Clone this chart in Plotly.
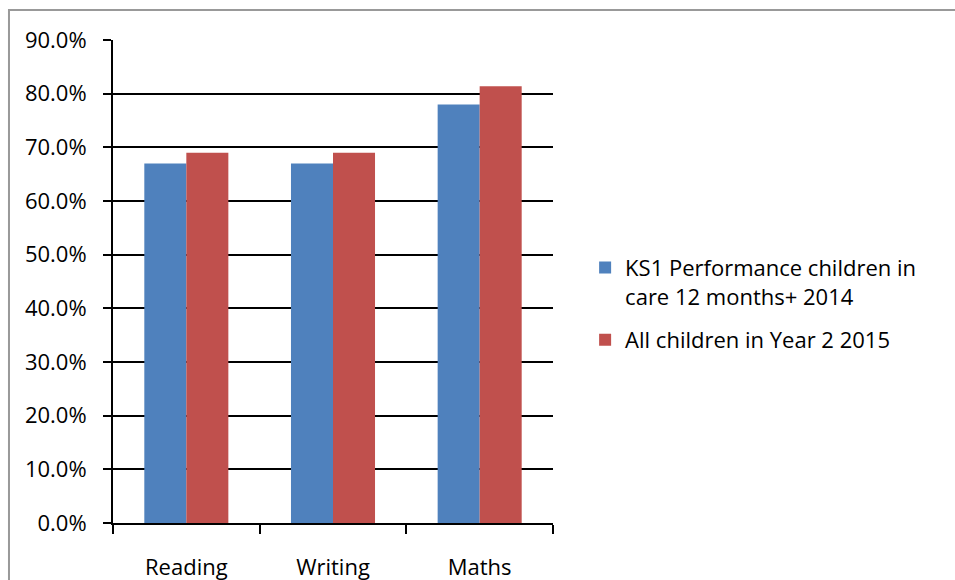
import plotly.graph_objects as go

categories = ["Reading", "Writing", "Maths"]
series_names = ["KS1 Performance children in<br>care 12 months+ 2014", "All children in Year 2 2015"]
in_care_2014 = [0.67, 0.67, 0.78]
all_year2_2015 = [0.69, 0.69, 0.814]
y_ticks = [0.0, 0.1, 0.2, 0.3, 0.4, 0.5, 0.6, 0.7, 0.8, 0.9]
colors = ["#4F81BD", "#C0504D"]

FONT = "Open Sans"
fig = go.Figure()
fig.add_trace(go.Bar(x=categories, y=in_care_2014, name=series_names[0],
                     marker=dict(color=colors[0], line=dict(width=0)), legendgroup="a"))
fig.add_trace(go.Bar(x=categories, y=all_year2_2015, name=series_names[1],
                     marker=dict(color=colors[1], line=dict(width=0)), legendgroup="b"))

fig.update_layout(
    width=955, height=580,
    margin=dict(l=113, r=402, t=40, b=57, pad=0),
    paper_bgcolor="white", plot_bgcolor="white",
    barmode="group", bargap=0.427, bargroupgap=0,
    font=dict(family=FONT, size=22, color="black"),
    legend=dict(x=1.073, y=0.572, xanchor="left", yanchor="top", valign="top",
                font=dict(family=FONT, size=22, color="black"),
                tracegroupgap=12, bgcolor="rgba(0,0,0,0)"),
    showlegend=True,
)
fig.update_xaxes(
    type="category", tickson="boundaries", ticks="outside", ticklen=9,
    tickwidth=1.5, tickcolor="black", showline=True, linecolor="black",
    linewidth=1.5, showgrid=False, ticklabelstandoff=24, automargin=False,
    tickfont=dict(family=FONT, size=22, color="black"),
)
fig.update_yaxes(
    range=[0, 0.9], tickvals=y_ticks, tickformat=".1%", ticks="outside",
    ticklen=8, tickwidth=1.5, tickcolor="black", showline=True,
    linecolor="black", linewidth=2, showgrid=True, gridcolor="black",
    gridwidth=1.5, zeroline=False, ticklabelstandoff=12, automargin=False,
    tickfont=dict(family=FONT, size=22, color="black"),
)
# outer chart border (partially outside the visible page, as in the original)
fig.add_shape(type="rect", xref="paper", yref="paper",
              x0=-0.2364, x1=1.95, y0=-0.3, y1=1.062,
              line=dict(color="#999999", width=2), fillcolor="rgba(0,0,0,0)", layer="below")

fig.write_html("out.html")
